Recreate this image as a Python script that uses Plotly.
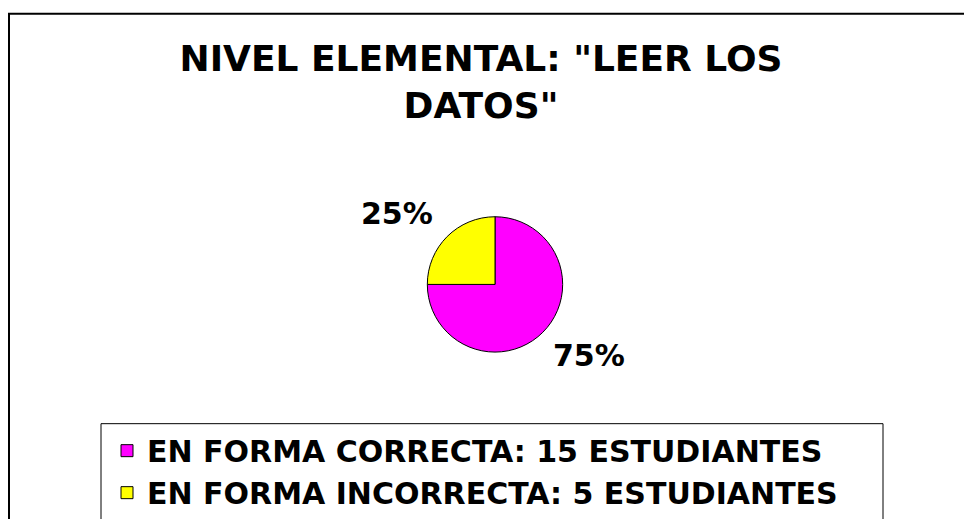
import plotly.graph_objects as go

W, H = 964, 519

labels = ["EN FORMA CORRECTA: 15 ESTUDIANTES", "EN FORMA INCORRECTA: 5 ESTUDIANTES"]
values = [15, 5]
colors = ["#FF00FF", "#FFFF00"]
title = 'NIVEL ELEMENTAL: "LEER LOS<br>DATOS"'

FONT = "DejaVu Sans, Arial, sans-serif"


# positions below are pixels of the 964x519 page
def px(x):
    return x / W


def py(y):
    return 1 - y / H


# pie centre / radius
cx, cy, r = 495, 290, 69

fig = go.Figure()
fig.add_trace(
    go.Pie(
        labels=labels,
        values=values,
        sort=False,
        direction="clockwise",
        rotation=0,
        marker=dict(colors=colors, line=dict(color="black", width=1)),
        textinfo="none",
        domain=dict(x=[px(cx - r), px(cx + r)], y=[py(cy + r), py(cy - r)]),
    )
)

# percentage labels outside the slices
total = sum(values)
label_pos = [(589, 362), (397, 218)]
for v, (lx, ly) in zip(values, label_pos):
    fig.add_annotation(
        x=px(lx), y=py(ly), xref="paper", yref="paper",
        xanchor="center", yanchor="middle",
        text=f"{v / total:.0%}", showarrow=False,
        font=dict(family=FONT, size=30, color="black", weight="bold"),
    )

# outer chart frame (runs off the right and bottom edges)
fig.add_shape(
    type="rect", xref="paper", yref="paper",
    x0=px(9), x1=1.2, y0=-0.2, y1=py(14),
    line=dict(color="black", width=2),
)
# legend frame
fig.add_shape(
    type="rect", xref="paper", yref="paper",
    x0=px(101), x1=px(883), y0=-0.2, y1=py(432),
    line=dict(color="black", width=1),
)

fig.update_layout(
    width=W,
    height=H,
    margin=dict(l=0, r=0, t=0, b=0),
    paper_bgcolor="white",
    plot_bgcolor="white",
    title=dict(
        text=title,
        x=px(481),
        xanchor="center",
        y=py(71),
        yanchor="top",
        font=dict(family=FONT, size=36, color="black", weight="bold"),
    ),
    legend=dict(
        x=px(107),
        y=py(433),
        xanchor="left",
        yanchor="top",
        borderwidth=0,
        bgcolor="rgba(0,0,0,0)",
        font=dict(family=FONT, size=30, color="black", weight="bold"),
    ),
)

# drop the default page margin so the figure fills the window exactly
fig.write_html(
    "out.html",
    config={"displayModeBar": False},
    post_script="document.body.style.margin = '0';",
)
